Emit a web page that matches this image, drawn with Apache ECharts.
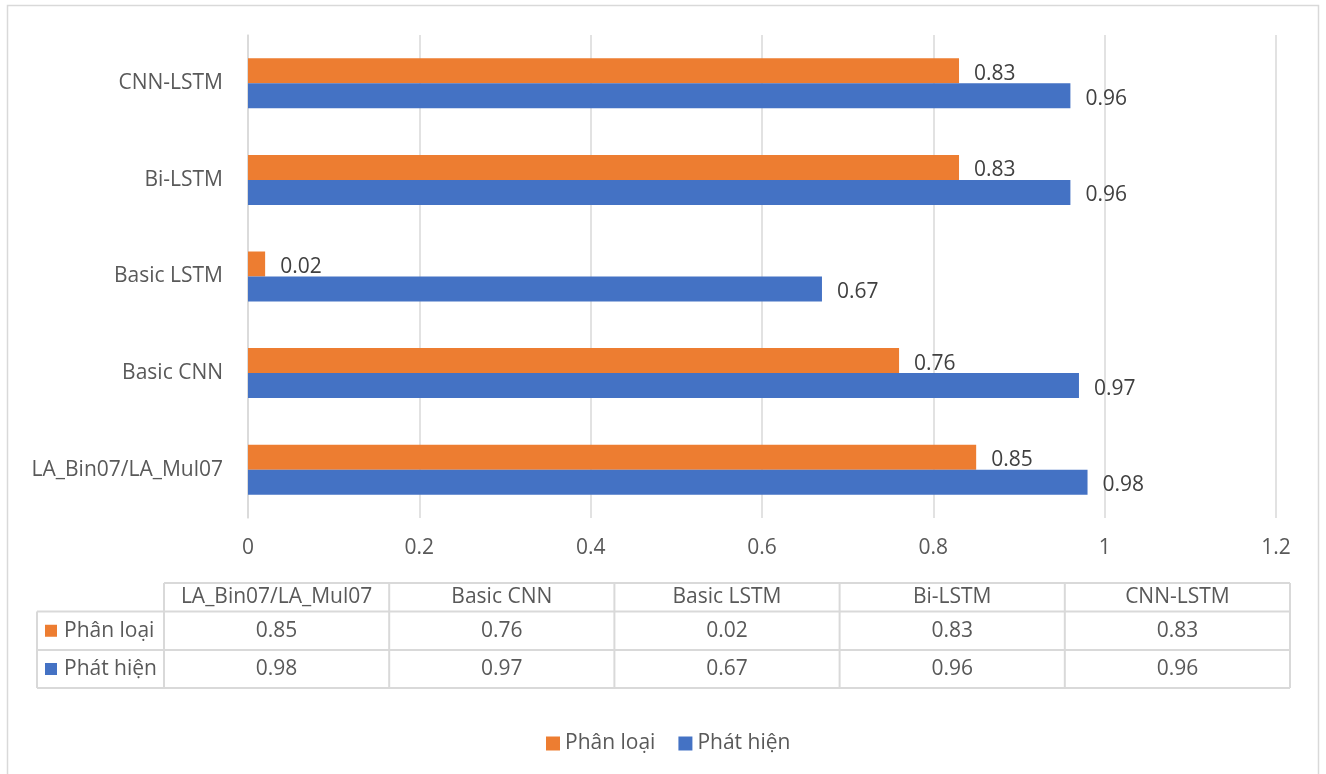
<!DOCTYPE html>
<html>
<head>
<meta charset="utf-8">
<script src="https://cdn.jsdelivr.net/npm/echarts@6/dist/echarts.min.js"></script>
<style>
  html, body { margin: 0; padding: 0; background: #ffffff; }
  #chart { width: 1326px; height: 774px; }
</style>
</head>
<body>
<div id="chart"></div>
<script>
// Model names (bottom to top on the category axis)
const categories = ['LA_Bin07/LA_Mul07', 'Basic CNN', 'Basic LSTM', 'Bi-LSTM', 'CNN-LSTM'];
const seriesNames = ['Phân loại', 'Phát hiện'];
const phanLoai = [0.85, 0.76, 0.02, 0.83, 0.83];
const phatHien = [0.98, 0.97, 0.67, 0.96, 0.96];
const xTicks = [0, 0.2, 0.4, 0.6, 0.8, 1, 1.2];

const colors = ['#ED7D31', '#4472C4'];
const FONT = '"Open Sans", "DejaVu Sans", sans-serif';
const TEXT = '#595959';
const LINE = '#d9d9d9';

const chart = echarts.init(document.getElementById('chart'));

// Data table beneath the plot, laid out cell by cell
const tbl = { left: 37, firstCol: 164, right: 1290, rows: [583, 611.5, 650, 688] };
const colW = (tbl.right - tbl.firstCol) / categories.length;
const graphics = [];

// outer frame
graphics.push({
  type: 'rect', silent: true,
  shape: { x: 7.5, y: 5.5, width: 1311, height: 800 },
  style: { fill: null, stroke: LINE, lineWidth: 1.5 }
});

function hline(x1, x2, y) {
  graphics.push({ type: 'line', silent: true, shape: { x1, y1: y, x2, y2: y }, style: { stroke: LINE, lineWidth: 2 } });
}
function vline(x, y1, y2) {
  graphics.push({ type: 'line', silent: true, shape: { x1: x, y1, x2: x, y2 }, style: { stroke: LINE, lineWidth: 2 } });
}
hline(tbl.firstCol, tbl.right, tbl.rows[0]);
for (let r = 1; r < tbl.rows.length; r++) hline(tbl.left, tbl.right, tbl.rows[r]);
vline(tbl.left, tbl.rows[1], tbl.rows[3]);
for (let c = 0; c <= categories.length; c++) vline(tbl.firstCol + c * colW, tbl.rows[0], tbl.rows[3]);

function cellText(text, x, y, align) {
  graphics.push({
    type: 'text', silent: true, x, y,
    style: { text, fill: TEXT, font: '21px ' + FONT, textAlign: align || 'center', textVerticalAlign: 'middle' }
  });
}
categories.forEach((c, i) => cellText(c, tbl.firstCol + (i + 0.5) * colW, (tbl.rows[0] + tbl.rows[1]) / 2));
[phanLoai, phatHien].forEach((vals, r) => {
  const yMid = (tbl.rows[r + 1] + tbl.rows[r + 2]) / 2;
  graphics.push({
    type: 'rect', silent: true,
    shape: { x: 45, y: yMid - 6, width: 12, height: 12 },
    style: { fill: colors[r] }
  });
  cellText(seriesNames[r], 64, yMid, 'left');
  vals.forEach((v, i) => cellText(String(v), tbl.firstCol + (i + 0.5) * colW, yMid));
});

const labelStyle = {
  show: true, position: 'right', distance: 15, offset: [0, 3],
  color: '#404040', fontSize: 21, fontFamily: FONT,
  formatter: p => String(p.value)
};

chart.setOption({
  animation: false,
  backgroundColor: '#ffffff',
  textStyle: { fontFamily: FONT },
  grid: { left: 248, right: 50, top: 35, bottom: 256, containLabel: false },
  legend: {
    data: seriesNames,
    left: 541, top: 728,
    itemWidth: 14, itemHeight: 14, itemGap: 23,
    icon: 'rect',
    textStyle: { color: TEXT, fontSize: 21, fontFamily: FONT }
  },
  xAxis: {
    type: 'value', min: xTicks[0], max: xTicks[xTicks.length - 1], interval: 0.2,
    axisLine: { show: false }, axisTick: { show: false },
    splitLine: { show: true, lineStyle: { color: LINE, width: 1.5 } },
    axisLabel: { color: TEXT, fontSize: 21, fontFamily: FONT, margin: 20,
      formatter: v => String(+v.toFixed(1)) }
  },
  yAxis: {
    type: 'category', data: categories,
    axisLine: { show: true, lineStyle: { color: LINE, width: 1.5 } },
    axisTick: { show: false },
    axisLabel: { color: TEXT, fontSize: 21, fontFamily: FONT, margin: 25 }
  },
  series: [
    { name: seriesNames[0], type: 'bar', data: phanLoai, barWidth: 25, barGap: '0%',
      itemStyle: { color: colors[0] }, label: labelStyle },
    { name: seriesNames[1], type: 'bar', data: phatHien, barWidth: 25, barGap: '0%',
      itemStyle: { color: colors[1] }, label: labelStyle }
  ],
  graphic: graphics
});
</script>
</body>
</html>
